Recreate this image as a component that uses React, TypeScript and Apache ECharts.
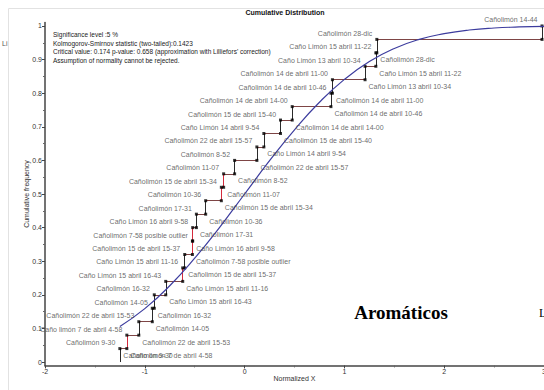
import React, { useEffect, useRef } from 'react';
import * as echarts from 'echarts';

// Observations, sorted by normalized value (bottom to top of the step function)
const sampleNames = [
  'Cañolimón 9-30',
  'Caño limón 7 de abril 4-58',
  'Cañolimón 22 de abril 15-53',
  'Cañolimón 14-05',
  'Cañolimón 16-32',
  'Caño Limón 15 abril 16-43',
  'Caño Limón 15 abril 11-16',
  'Cañolimón 15 de abril 15-37',
  'Cañolimón 7-58 posible outlier',
  'Caño Limón 16 abril 9-58',
  'Cañolimón 17-31',
  'Cañolimón 10-36',
  'Cañolimón 15 de abril 15-34',
  'Cañolimón 11-07',
  'Cañolimón 8-52',
  'Cañolimón 22 de abril 15-57',
  'Caño Limón 14 abril 9-54',
  'Cañolimón 15 de abril 15-40',
  'Cañolimón 14 de abril 14-00',
  'Cañolimón 14 de abril 10-46',
  'Cañolimón 14 de abril 11-00',
  'Caño Limón 13 abril 10-34',
  'Caño Limón 15 abril 11-22',
  'Cañolimón 28-dic',
  'Cañolimón 14-44',
];

const normalizedX = [
  -1.25, -1.18, -1.06, -0.925, -0.905, -0.79, -0.62, -0.6, -0.523, -0.52,
  -0.483, -0.39, -0.233, -0.21, -0.1, 0.123, 0.193, 0.36, 0.477, 0.865,
  0.88, 1.207, 1.315, 1.325, 2.98,
];

const cumulativeFrequency = [
  0.04, 0.08, 0.12, 0.16, 0.2, 0.24, 0.28, 0.32, 0.36, 0.4,
  0.44, 0.48, 0.52, 0.56, 0.6, 0.64, 0.68, 0.72, 0.76, 0.8,
  0.84, 0.88, 0.92, 0.96, 1.0,
];

// Steps whose vertical riser is drawn in red (1-based rank)
const redSteps = [2, 7, 9, 10, 13, 14];

// Theoretical (normal) cumulative distribution
const curveX = [-1.25, -1, -0.75, -0.5, -0.25, 0, 0.25, 0.5, 0.75, 1, 1.25, 1.5, 1.75, 2, 2.25, 2.5, 2.75, 3];
const curveY = [0.106, 0.159, 0.227, 0.309, 0.401, 0.5, 0.599, 0.691, 0.773, 0.841, 0.894, 0.933, 0.96, 0.977, 0.988, 0.994, 0.997, 0.999];

const yTickValues = [0, 0.1, 0.2, 0.3, 0.4, 0.5, 0.6, 0.7, 0.8, 0.9, 1];
const yMinorTickValues = [0.05, 0.15, 0.25, 0.35, 0.45, 0.55, 0.65, 0.75, 0.85, 0.95];

const infoLines = [
  'Significance level :5 %',
  'Kolmogorov-Smirnov statistic (two-tailed):0.1423',
  "Critical value: 0.174 p-value: 0.658 (approximation with Lilliefors' correction)",
  'Assumption of normality cannot be rejected.',
];

const chartTitle = 'Cumulative Distribution';
const xAxisTitle = 'Normalized X';
const yAxisTitle = 'Cumulative frequency';
const overlayTitle = 'Aromáticos';

export default function App() {
  const ref = useRef<HTMLDivElement>(null);

  useEffect(() => {
    if (!ref.current) return;
    const chart = echarts.init(ref.current, null, { renderer: 'svg' });
    const font = '"Liberation Sans", Arial, sans-serif';
    const n = normalizedX.length;

    const horiz: any[] = [];
    const vert: any[] = [];
    const markers: any[] = [];
    const leftLabels: any[] = [];
    const rightLabels: any[] = [];
    for (let k = 0; k < n; k++) {
      const x = normalizedX[k];
      const top = cumulativeFrequency[k];
      const bottom = k === 0 ? 0 : cumulativeFrequency[k - 1];
      vert.push({
        coords: [[x, bottom], [x, top]],
        lineStyle: { color: redSteps.includes(k + 1) ? '#d42a3c' : '#2a2a2a' },
      });
      if (k < n - 1) horiz.push({ coords: [[x, top], [normalizedX[k + 1], top]] });
      markers.push([x, top]);
      if (k > 0) markers.push([x, bottom]);
      leftLabels.push({ value: [x, top], name: sampleNames[k] });
      rightLabels.push({ value: [x, k === 0 ? top : bottom], name: sampleNames[k] });
    }

    const labelStyle = { fontSize: 7, color: '#444', fontFamily: font };

    chart.setOption({
      animation: false,
      grid: { left: 45, right: 0, top: 22.6, bottom: 24.6, containLabel: false, outerBoundsMode: 'none' },
      xAxis: {
        type: 'value',
        min: -2,
        max: 3,
        interval: 1,
        name: xAxisTitle,
        nameLocation: 'middle',
        nameGap: 10,
        nameMoveOverlap: false,
        nameTextStyle: { fontSize: 7, color: '#333', fontFamily: font },
        axisLine: { onZero: false, lineStyle: { color: '#444', width: 1.5 } },
        axisTick: { length: 3, lineStyle: { color: '#444' } },
        minorTick: { show: true, splitNumber: 2, length: 2, lineStyle: { color: '#666' } },
        axisLabel: { fontSize: 7, color: '#333', margin: 3, fontFamily: font },
        splitLine: { show: false },
      },
      yAxis: [
        {
          type: 'value',
          min: -0.01,
          max: 1.01,
          name: yAxisTitle,
          nameLocation: 'middle',
          nameGap: 15,
          nameRotate: 90,
          nameMoveOverlap: false,
          nameTextStyle: { fontSize: 7, color: '#333', fontFamily: font },
          axisLine: { show: true, onZero: false, lineStyle: { color: '#444', width: 1.5 } },
          axisTick: { show: true, length: 3, customValues: yTickValues, lineStyle: { color: '#444' } },
          axisLabel: {
            fontSize: 7,
            color: '#333',
            margin: 3,
            fontFamily: font,
            customValues: yTickValues,
            formatter: (v: number) => String(+Number(v).toFixed(1)),
          },
          splitLine: { show: false },
        },
        {
          type: 'value',
          min: -0.01,
          max: 1.01,
          position: 'left',
          axisLine: { show: false, onZero: false },
          axisTick: { show: true, length: 2, customValues: yMinorTickValues, lineStyle: { color: '#666' } },
          axisLabel: { show: false },
          splitLine: { show: false },
        },
      ],
      series: [
        {
          type: 'lines',
          coordinateSystem: 'cartesian2d',
          data: horiz,
          lineStyle: { color: '#7e4545', width: 1, opacity: 1 },
          silent: true,
        },
        {
          type: 'lines',
          coordinateSystem: 'cartesian2d',
          data: vert,
          lineStyle: { width: 1, opacity: 1 },
          silent: true,
        },
        {
          type: 'scatter',
          data: markers,
          symbol: 'rect',
          symbolSize: 3,
          itemStyle: { color: '#000' },
          silent: true,
          z: 3,
        },
        {
          type: 'line',
          data: curveX.map((x, i) => [x, curveY[i]]),
          smooth: true,
          showSymbol: false,
          lineStyle: { color: '#3c3c9e', width: 1.2 },
          silent: true,
          z: 4,
        },
        {
          type: 'scatter',
          data: leftLabels,
          symbolSize: 1,
          itemStyle: { color: 'transparent' },
          label: { show: true, position: 'left', distance: 4, offset: [0, -6], formatter: (p: any) => p.name, ...labelStyle },
          silent: true,
          z: 5,
        },
        {
          type: 'scatter',
          data: rightLabels,
          symbolSize: 1,
          itemStyle: { color: 'transparent' },
          label: { show: true, position: 'right', distance: 3, offset: [0, 7], formatter: (p: any) => p.name, ...labelStyle },
          silent: true,
          z: 5,
        },
      ],
      graphic: [
        {
          type: 'rect',
          shape: { x: 8.5, y: 8.5, width: 700, height: 500 },
          style: { fill: 'none', stroke: '#e2e2e2', lineWidth: 1 },
          silent: true,
          z: -1,
        },
        {
          type: 'text',
          x: 285,
          y: 12,
          style: { text: chartTitle, fontSize: 7, fontWeight: 'bold', fontFamily: font, fill: '#111', align: 'center', verticalAlign: 'middle' },
        },
        ...infoLines.map((t, i) => ({
          type: 'text',
          x: 53,
          y: 34.3 + i * 8.8,
          style: { text: t, fontSize: 6.5, fontFamily: font, fill: '#1a1a1a', align: 'left', verticalAlign: 'middle' },
        })),
        {
          type: 'text',
          x: 2,
          y: 43,
          style: { text: 'Li', fontSize: 7, fontFamily: font, fill: '#555', align: 'left', verticalAlign: 'middle' },
        },
        {
          type: 'text',
          x: 401,
          y: 312,
          style: { text: overlayTitle, fontSize: 19, fontWeight: 'bold', fontFamily: '"Liberation Serif", "Times New Roman", serif', fill: '#000', align: 'center', verticalAlign: 'middle' },
        },
        {
          type: 'text',
          x: 539,
          y: 313,
          style: { text: 'L', fontSize: 12, fontFamily: '"Liberation Serif", "Times New Roman", serif', fill: '#000', align: 'left', verticalAlign: 'middle' },
        },
      ],
    });

    return () => chart.dispose();
  }, []);

  return <div ref={ref} style={{ position: 'fixed', left: 0, top: 0, width: 544, height: 390, background: '#fff' }} />;
}
